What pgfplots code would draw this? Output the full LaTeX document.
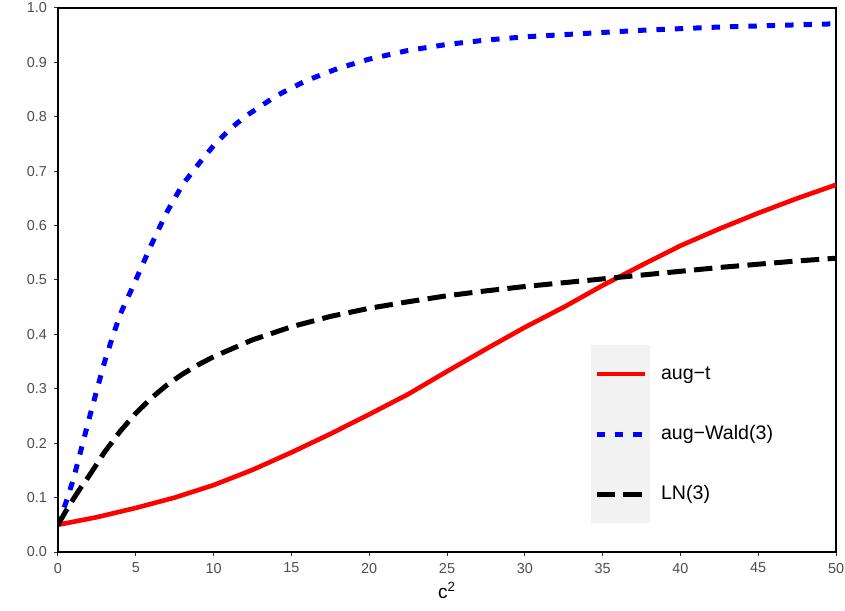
\documentclass[border=0pt]{standalone}
\usepackage{fontspec}
\setmainfont{Liberation Sans}
\usepackage{pgfplots}
\pgfplotsset{compat=1.18}
\definecolor{ticktext}{HTML}{4D4D4D}
\definecolor{legendgray}{HTML}{F2F2F2}
\definecolor{tickcol}{HTML}{333333}
\begin{document}
\begin{tikzpicture}
\useasboundingbox (-29pt,-29pt) rectangle (393.5pt,276pt);
\begin{axis}[
  at={(0pt,0pt)}, anchor=south west,
  scale only axis, width=389pt, height=272pt,
  xmin=0, xmax=50, ymin=0, ymax=1,
  xtick={0,5,10,15,20,25,30,35,40,45,50},
  ytick={0,0.1,0.2,0.3,0.4,0.5,0.6,0.7,0.8,0.9,1.0},
  yticklabel style={/pgf/number format/.cd, fixed, fixed zerofill, precision=1},
  /pgf/number format/assume math mode=true,
  axis line style={black, line width=0.6pt},
  tick align=outside, tick pos=left,
  tick style={tickcol, line width=0.5pt},
  major tick length=2pt,
  ticklabel style={font=\fontsize{7.2}{8}\selectfont, text=ticktext},
  xlabel={c\textsuperscript{2}},
  xlabel style={font=\fontsize{9.5}{11}\selectfont, text=black, yshift=2.5pt},
  legend cell align=left,
  legend image code/.code={\path[draw=none,fill=none] (0pt,-15pt) rectangle (24pt,15pt); \draw[#1] (0pt,0pt) -- (24pt,0pt);},
  legend style={at={(rel axis cs:0.689,0.382)}, anchor=north west, draw=none, fill=none,
    inner sep=0pt, outer sep=0pt, row sep=0pt,
    nodes={inner sep=0pt, outer sep=0pt, font=\fontsize{9.8}{12}\selectfont, text=black},
    /tikz/every odd column/.append style={column sep=7pt}},
]
\fill[legendgray] (rel axis cs:0.685,0.3805) rectangle (rel axis cs:0.7609,0.0533);
\addplot[red, line width=2.3pt] coordinates {
(0,0.05) (2.5,0.064) (5,0.081) (7.5,0.100) (10,0.123) (12.5,0.151) (15,0.183) (17.5,0.217)
(20,0.253) (22.5,0.290) (25,0.332) (27.5,0.373) (30,0.413) (32.5,0.450) (35,0.490)
(37.5,0.527) (40,0.563) (42.5,0.594) (45,0.623) (47.5,0.650) (50,0.675)};
\addlegendentry{aug−t}
\addplot[blue, line width=2.5pt, dash pattern=on 4.2pt off 5pt] coordinates {
(0,0.05) (0.5,0.09) (1,0.135) (1.5,0.19) (2,0.245) (2.5,0.298) (3,0.35) (3.5,0.395) (4,0.437)
(5,0.50) (6,0.565) (7,0.625) (8,0.675) (9,0.712) (10,0.747) (11,0.776) (12,0.800) (13,0.819)
(14,0.838) (15,0.853) (16,0.867) (18,0.889) (20,0.906) (22.5,0.922) (25,0.933) (27.5,0.941)
(30,0.947) (32.5,0.951) (35,0.955) (37.5,0.959) (40,0.962) (42.5,0.965) (45,0.967)
(47.5,0.969) (50,0.971)};
\addlegendentry{aug−Wald(3)}
\addplot[black, line width=2.5pt, dash pattern=on 9.2pt off 4.2pt] coordinates {
(0,0.05) (0.5,0.075) (1,0.098) (1.5,0.12) (2,0.14) (3,0.184) (4,0.222) (5,0.255) (6,0.283)
(7,0.307) (8,0.327) (9,0.344) (10,0.359) (12.5,0.39) (15,0.414) (17.5,0.433) (20,0.448)
(22.5,0.460) (25,0.471) (27.5,0.480) (30,0.488) (32.5,0.495) (35,0.502) (37.5,0.509)
(40,0.516) (42.5,0.523) (45,0.529) (47.5,0.535) (50,0.540)};
\addlegendentry{LN(3)}
\draw[black, line width=1.1pt] (rel axis cs:0,1) -- (rel axis cs:0,0) -- (rel axis cs:1,0);
\end{axis}
\end{tikzpicture}
\end{document}
